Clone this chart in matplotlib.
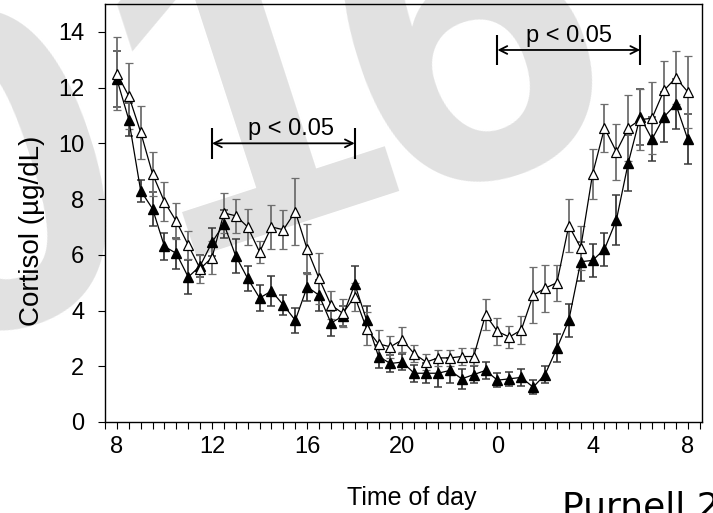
import matplotlib
matplotlib.use('Agg')
import matplotlib.pyplot as plt
from matplotlib.ticker import MultipleLocator
import numpy as np

##################### DATA #####################
# sampling every 30 min from 08:00 to 08:00 next day (hours past midnight of day 1)
hours = np.arange(8, 32.5, 0.5)

open_mean = [12.5, 11.7, 10.4, 8.9, 7.9, 7.2, 6.35, 5.5, 5.9, 7.5,
             7.4, 7.0, 6.1, 7.0, 6.9, 7.55, 6.2, 5.15, 4.2, 3.9,
             4.5, 3.35, 2.8, 2.7, 2.95, 2.45, 2.15, 2.3, 2.3, 2.35,
             2.35, 3.85, 3.25, 3.05, 3.3, 4.55, 4.8, 5.0, 7.05, 6.25,
             8.9, 10.55, 9.7, 10.55, 10.85, 10.9, 11.9, 12.35, 11.85]
open_err = [1.3, 1.2, 0.95, 0.8, 0.7, 0.65, 0.5, 0.5, 0.6, 0.7,
            0.6, 0.65, 0.4, 0.8, 0.7, 1.2, 0.9, 0.9, 0.5, 0.5,
            0.5, 0.6, 0.5, 0.4, 0.45, 0.3, 0.3, 0.3, 0.3, 0.3,
            0.3, 0.55, 0.5, 0.4, 0.5, 1.0, 0.85, 0.65, 0.95, 0.8,
            0.9, 0.85, 1.0, 1.2, 1.1, 1.3, 1.05, 0.95, 1.3]

filled_mean = [12.3, 10.85, 8.3, 7.65, 6.3, 6.05, 5.2, 5.6, 6.45, 7.1,
               5.95, 5.15, 4.45, 4.7, 4.2, 3.65, 4.85, 4.55, 3.55, 3.8,
               4.95, 3.65, 2.35, 2.1, 2.15, 1.75, 1.75, 1.75, 1.85, 1.55,
               1.7, 1.85, 1.5, 1.55, 1.6, 1.25, 1.7, 2.65, 3.65, 5.75,
               5.8, 6.2, 7.25, 9.3, 10.95, 10.15, 10.95, 11.4, 10.15]
filled_err = [1.0, 0.6, 0.4, 0.6, 0.5, 0.55, 0.6, 0.4, 0.5, 0.5,
              0.6, 0.45, 0.45, 0.55, 0.35, 0.45, 0.5, 0.55, 0.45, 0.35,
              0.65, 0.5, 0.4, 0.3, 0.3, 0.3, 0.35, 0.5, 0.45, 0.35,
              0.3, 0.3, 0.25, 0.25, 0.3, 0.25, 0.3, 0.5, 0.6, 0.7,
              0.6, 0.6, 0.9, 1.0, 1.0, 0.8, 0.9, 0.9, 0.9]

xtick_pos = [8, 12, 16, 20, 24, 28, 32]
xtick_labels = ['8', '12', '16', '20', '0', '4', '8']

# significance brackets: (start, end, arrow y, label x, label y)
brackets = [(12, 18, 10.0, 15.3, 10.3), (24, 30, 13.35, 27.0, 13.65)]

##################### PLOT SETTINGS #####################
plt.rcParams['font.family'] = ['Liberation Sans', 'DejaVu Sans']
tick_size = 17
###################################################################

fig = plt.figure(figsize=(7.13, 5.13), dpi=100)

# grey watermark behind the chart (pixel anchors from the top-left corner)
wm = dict(fontsize=330, fontweight='bold', color='#e1e1e1', rotation=18,
          rotation_mode='anchor', ha='center', va='baseline', zorder=0,
          family='Liberation Sans')
for ch, px, py in [('0', 35, 315), ('1', 288, 218), ('6', 510, 168)]:
    fig.text(px / 713, 1 - py / 513, ch, **wm)

ax = fig.add_axes([105 / 713, 1 - 422 / 513, (702 - 105) / 713, (422 - 4) / 513])
ax.set_zorder(1)
ax.patch.set_alpha(0)

ax.errorbar(hours, filled_mean, yerr=filled_err, fmt='-^', color='black',
            mfc='black', mec='black', ms=7.5, lw=0.9, ecolor='#3a3a3a',
            elinewidth=1.3, capsize=3, capthick=1.1)
ax.errorbar(hours, open_mean, yerr=open_err, fmt='-^', color='black',
            mfc='white', mec='black', ms=7.5, mew=0.9, lw=0.9, ecolor='#6e6e6e',
            elinewidth=1.3, capsize=3, capthick=1.1)

for x0, x1, ya, tx, ty in brackets:
    ax.annotate('', xy=(x0, ya), xytext=(x1, ya),
                arrowprops=dict(arrowstyle='<->', color='black', lw=1.3,
                                shrinkA=0, shrinkB=0, mutation_scale=14))
    ax.vlines([x0, x1], ya - 0.55, ya + 0.55, color='black', lw=1.5)
    ax.text(tx, ty, 'p < 0.05', ha='center', va='baseline', fontsize=17)

ax.set_xlim(7.5, 32.6)
ax.set_ylim(0, 15)
ax.set_xticks(xtick_pos)
ax.set_xticklabels(xtick_labels)
ax.xaxis.set_minor_locator(MultipleLocator(0.5))
ax.set_yticks(range(0, 15, 2))
ax.tick_params(which='both', direction='out', length=5, width=0.8,
               labelsize=tick_size)
ax.tick_params(axis='y', pad=10)
ax.tick_params(axis='x', pad=5)
for s in ax.spines.values():
    s.set_linewidth(1.0)

ax.set_ylabel('Cortisol (µg/dL)', fontsize=20)
ax.yaxis.set_label_coords((45 - 105) / 597, (422 - 231) / 418)
ax.set_xlabel('Time of day', fontsize=18)
ax.xaxis.set_label_coords((412 - 105) / 597, (422 - 486) / 418)

fig.text(562 / 713, 1 - 490 / 513, 'Purnell 2016', fontsize=26,
         family='DejaVu Sans', ha='left', va='top')

fig.savefig('out.png', dpi=100)
